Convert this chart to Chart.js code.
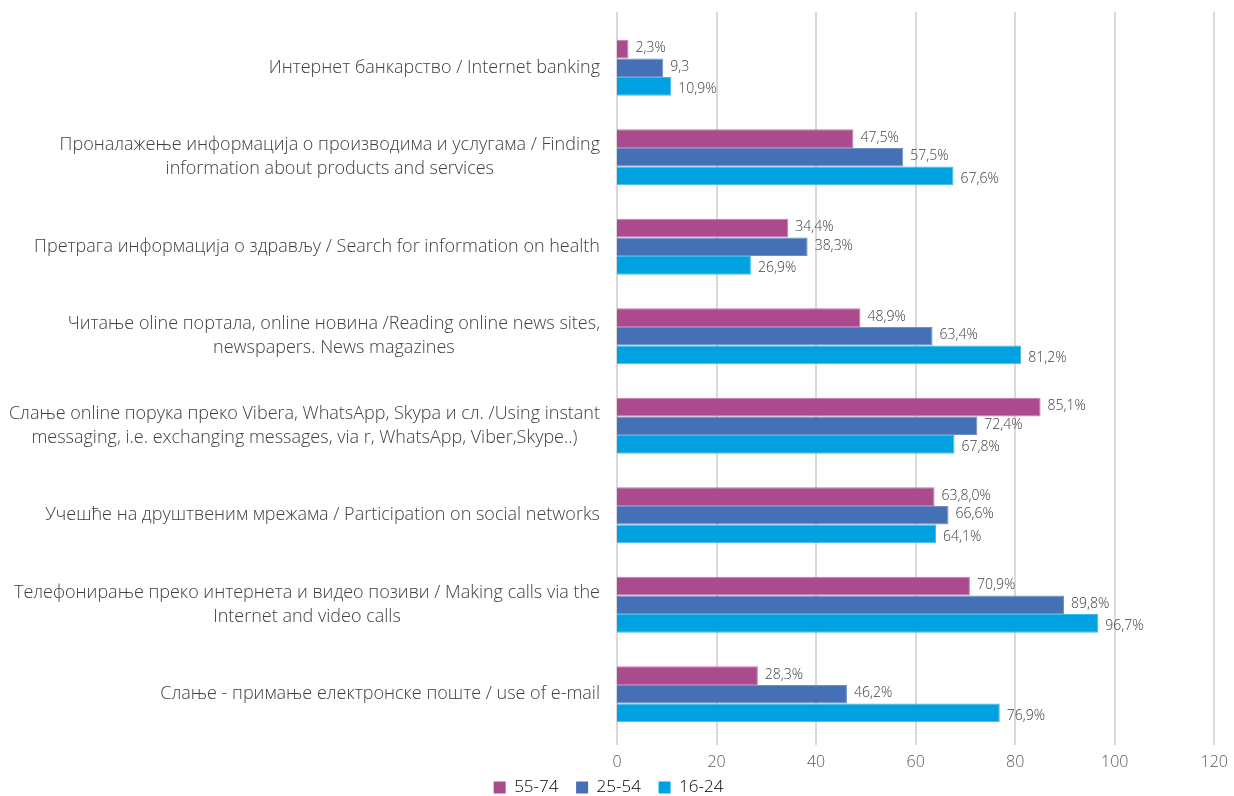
<!DOCTYPE html>
<html>
<head>
<meta charset="utf-8">
<script src="https://cdn.jsdelivr.net/npm/chart.js@4"></script>
<style>
  html, body { margin: 0; padding: 0; background: #fff; }
  #wrap { width: 1234px; height: 796px; position: relative; }
</style>
</head>
<body>
<div id="wrap"><canvas id="activityChart"></canvas></div>
<script>
const categories = [
    ['Интернет банкарство / Internet banking'],
    ['Проналажење информација о производима и услугама / Finding', 'information about products and services'],
    ['Претрага информација о здрављу / Search for information on health'],
    ['Читање oline портала, online новина /Reading online news sites,', 'newspapers. News magazines'],
    ['Слање online порука преко Vibera, WhatsApp, Skypa и сл. /Using instant', 'messaging, i.e. exchanging messages, via r, WhatsApp, Viber,Skype..)'],
    ['Учешће на друштвеним мрежама / Participation on social networks'],
    ['Телефонирање преко интернета и видео позиви / Making calls via the', 'Internet and video calls'],
    ['Слање - примање електронске поште / use of e-mail']
];

const seriesNames = ['55-74', '25-54', '16-24'];

const values5574 = [2.3, 47.5, 34.4, 48.9, 85.1, 63.8, 70.9, 28.3];
const values2554 = [9.3, 57.5, 38.3, 63.4, 72.4, 66.6, 89.8, 46.2];
const values1624 = [10.9, 67.6, 26.9, 81.2, 67.8, 64.1, 96.7, 76.9];

const labels5574 = ['2,3%', '47,5%', '34,4%', '48,9%', '85,1%', '63,8,0%', '70,9%', '28,3%'];
const labels2554 = ['9,3', '57,5%', '38,3%', '63,4%', '72,4%', '66,6%', '89,8%', '46,2%'];
const labels1624 = ['10,9%', '67,6%', '26,9%', '81,2%', '67,8%', '64,1%', '96,7%', '76,9%'];

const xTicks = [0, 20, 40, 60, 80, 100, 120];

const FONT = '"Open Sans", "Noto Sans", sans-serif';
const TEXT_COLOR = '#404040';

// vertical grid lines, they run a bit above the plot in the original
const gridPlugin = {
    id: 'gridLines',
    beforeDatasetsDraw(chart) {
        const x = chart.scales.x;
        const ctx = chart.ctx;
        ctx.save();
        ctx.strokeStyle = '#d9d9d9';
        ctx.lineWidth = 2;
        xTicks.forEach(v => {
            const px = Math.round(x.getPixelForValue(v));
            ctx.beginPath();
            ctx.moveTo(px, 12);
            ctx.lineTo(px, chart.chartArea.bottom + 6);
            ctx.stroke();
        });
        ctx.restore();
    }
};

// category names, lines centred on each other, block right aligned
const catPlugin = {
    id: 'catLabels',
    afterDraw(chart) {
        const y = chart.scales.y;
        const ctx = chart.ctx;
        ctx.save();
        ctx.font = '300 18px ' + FONT;
        ctx.fillStyle = TEXT_COLOR;
        ctx.textAlign = 'center';
        ctx.textBaseline = 'middle';
        const right = chart.chartArea.left - 17;
        categories.forEach((lines, i) => {
            const cy = y.getPixelForValue(i);
            let maxW = 0;
            lines.forEach(l => { maxW = Math.max(maxW, ctx.measureText(l).width); });
            const cx = right - maxW / 2;
            const lh = 24;
            const start = cy - (lines.length - 1) * lh / 2;
            lines.forEach((l, j) => ctx.fillText(l, cx, start + j * lh));
        });
        ctx.restore();
    }
};

const valueTexts = [labels5574, labels2554, labels1624];
const labelShift = [-1, -1, 3];

const valuePlugin = {
    id: 'valueLabels',
    afterDatasetsDraw(chart) {
        const ctx = chart.ctx;
        ctx.save();
        ctx.font = '300 14px ' + FONT;
        ctx.fillStyle = TEXT_COLOR;
        ctx.textAlign = 'left';
        ctx.textBaseline = 'middle';
        chart.data.datasets.forEach((ds, d) => {
            chart.getDatasetMeta(d).data.forEach((bar, i) => {
                ctx.fillText(valueTexts[d][i], bar.x + 7, bar.y + labelShift[d]);
            });
        });
        ctx.restore();
    }
};

const ctx = document.getElementById('activityChart');
new Chart(ctx.getContext('2d'), {
    type: 'bar',
    data: {
        labels: categories.map(c => c.join(' ')),
        datasets: [
            { label: seriesNames[0], data: values5574, backgroundColor: '#ab4b8e', borderColor: '#c27aac', borderWidth: 1 },
            { label: seriesNames[1], data: values2554, backgroundColor: '#4570b5', borderColor: '#6f8fc6', borderWidth: 1 },
            { label: seriesNames[2], data: values1624, backgroundColor: '#00a1e0', borderColor: '#40b8ea', borderWidth: 1 }
        ]
    },
    options: {
        indexAxis: 'y',
        responsive: true,
        maintainAspectRatio: false,
        animation: false,
        layout: { padding: { top: 23, right: 17, left: 0, bottom: -10 } },
        datasets: {
            bar: { barPercentage: 1, categoryPercentage: 0.625 }
        },
        plugins: {
            legend: {
                position: 'bottom',
                labels: {
                    boxWidth: 12,
                    boxHeight: 12,
                    padding: 0,
                    color: TEXT_COLOR,
                    font: { family: FONT, size: 17, weight: 300 },
                    generateLabels(chart) {
                        const n = chart.data.datasets.length;
                        return chart.data.datasets.map((ds, i) => ({
                            text: ds.label + (i < n - 1 ? '    ' : ''),
                            fillStyle: ds.backgroundColor,
                            strokeStyle: ds.backgroundColor,
                            lineWidth: 0,
                            datasetIndex: i
                        }));
                    }
                }
            },
            tooltip: { enabled: false }
        },
        scales: {
            x: {
                min: 0,
                max: 120,
                afterBuildTicks(s) { s.ticks = xTicks.map(v => ({ value: v })); },
                afterFit(s) { s.height = 40; },
                grid: { display: false },
                border: { display: false },
                ticks: {
                    color: '#595959',
                    padding: 6,
                    font: { family: FONT, size: 16, weight: 300 }
                }
            },
            y: {
                afterFit(s) { s.width = 617; },
                grid: { display: false },
                border: { display: false },
                ticks: { display: false }
            }
        }
    },
    plugins: [gridPlugin, catPlugin, valuePlugin]
});
</script>
</body>
</html>
